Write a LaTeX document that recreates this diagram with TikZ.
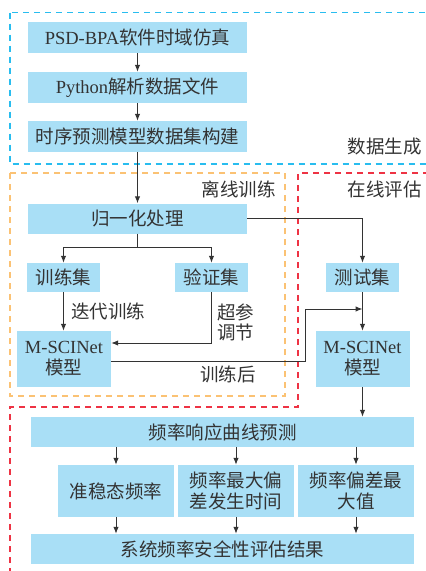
\documentclass[tikz,border=0pt]{standalone}
\usepackage{fontspec}
\setmainfont{Liberation Serif}
\newfontfamily\cjkf{Noto Sans CJK SC}
\newcommand\latn[1]{{\rmfamily #1}}
\usetikzlibrary{arrows.meta}
\definecolor{boxfill}{HTML}{A9DFF6}
\definecolor{txt}{HTML}{333333}
\definecolor{dblue}{HTML}{29BDEF}
\definecolor{dorange}{HTML}{FBC274}
\definecolor{dred}{HTML}{EE3344}
\begin{document}
\begin{tikzpicture}[x=1pt,y=-1pt,
  box/.style={fill=boxfill, inner sep=0pt, text=txt, align=center,
    font=\fontsize{18.5}{21}\selectfont\cjkf},
  lbl/.style={inner sep=0pt, text=txt, align=left,
    font=\fontsize{18.5}{20}\selectfont\cjkf},
  arr/.style={draw=txt, line width=1pt, -{Latex[length=7pt,width=5.5pt]}},
  ln/.style={draw=txt, line width=1pt},
  dsh/.style={line width=1.2pt, dash pattern=on 6pt off 5pt}]
\clip (0,0) rectangle (426,571);
% dashed regions
\draw[dsh, dblue] (10,12.7) rectangle (440,164);
\draw[dsh, dorange] (10,173) rectangle (285,396);
\draw[dsh, dred] (440,173) -- (298,173) -- (298,407) -- (10,407) -- (10,580);
% region labels
\node[lbl, anchor=east] (lgen) at (422,147) {数据生成};
\node[lbl, anchor=east] (loff) at (276,189) {离线训练};
\node[lbl, anchor=east] (lon) at (422,189) {在线评估};
% boxes
\node[box, minimum width=219pt, minimum height=31pt] (b1) at (137.5,37.5) {\latn{PSD-BPA}软件时域仿真};
\node[box, minimum width=219pt, minimum height=31pt] (b2) at (137.5,87.5) {\latn{Python}解析数据文件};
\node[box, minimum width=219pt, minimum height=31pt] (b3) at (137.5,136.5) {时序预测模型数据集构建};
\node[box, minimum width=219pt, minimum height=30pt] (norm) at (137.5,218.5) {归一化处理};
\node[box, minimum width=73pt, minimum height=29pt] (train) at (63.5,277.5) {训练集};
\node[box, minimum width=73pt, minimum height=29pt] (val) at (211.5,277.5) {验证集};
\node[box, minimum width=73pt, minimum height=29pt] (test) at (362.5,277.5) {测试集};
\node[box, minimum width=94pt, minimum height=56pt] (m1) at (64,359) {\latn{M-SCINet}\\模型};
\node[box, minimum width=94pt, minimum height=56pt] (m2) at (362.5,359) {\latn{M-SCINet}\\模型};
\node[box, minimum width=383pt, minimum height=30pt] (pred) at (222.5,432) {频率响应曲线预测};
\node[box, minimum width=116pt, minimum height=52pt] (t1) at (116,491) {准稳态频率};
\node[box, minimum width=116pt, minimum height=52pt] (t2) at (236,491) {频率最大偏\\差发生时间};
\node[box, minimum width=116pt, minimum height=52pt] (t3) at (356,491) {频率偏差最\\大值};
\node[box, minimum width=383pt, minimum height=30pt] (res) at (222.5,549) {系统频率安全性评估结果};
% labels
\node[lbl, anchor=west] (liter) at (71,311) {迭代训练};
\node[lbl, anchor=west] (lhp) at (217,322) {超参\\调节};
\node[lbl] (lafter) at (228,374) {训练后};
% coordinates
\coordinate (br) at (137.5,247);
\coordinate (bend) at (305,309);
\coordinate (j) at (362.5,309);
% connectors
\draw[arr] (b1) -- (b2);
\draw[arr] (b2) -- (b3);
\draw[arr] (b3) -- (norm);
\draw[ln] (norm.south) -- (br);
\draw[arr] (br) -| (train.north);
\draw[arr] (br) -| (val.north);
\draw[arr] (norm.east) -| (test.north);
\draw[arr] (train.south) -- (train.south |- m1.north);
\draw[arr] (val.south) |- ([yshift=16pt]m1.east);
\draw[arr] (test.south) -- (m2.north);
\draw[arr] ([yshift=-2pt]m1.east) -| (bend) -- (j);
\draw[arr] (m2.south) -- (m2.south |- pred.north);
\draw[arr] (pred.south -| t1) -- (t1.north);
\draw[arr] (pred.south -| t2) -- (t2.north);
\draw[arr] (pred.south -| t3) -- (t3.north);
\draw[arr] (t1.south) -- (t1.south |- res.north);
\draw[arr] (t2.south) -- (t2.south |- res.north);
\draw[arr] (t3.south) -- (t3.south |- res.north);
\end{tikzpicture}
\end{document}
